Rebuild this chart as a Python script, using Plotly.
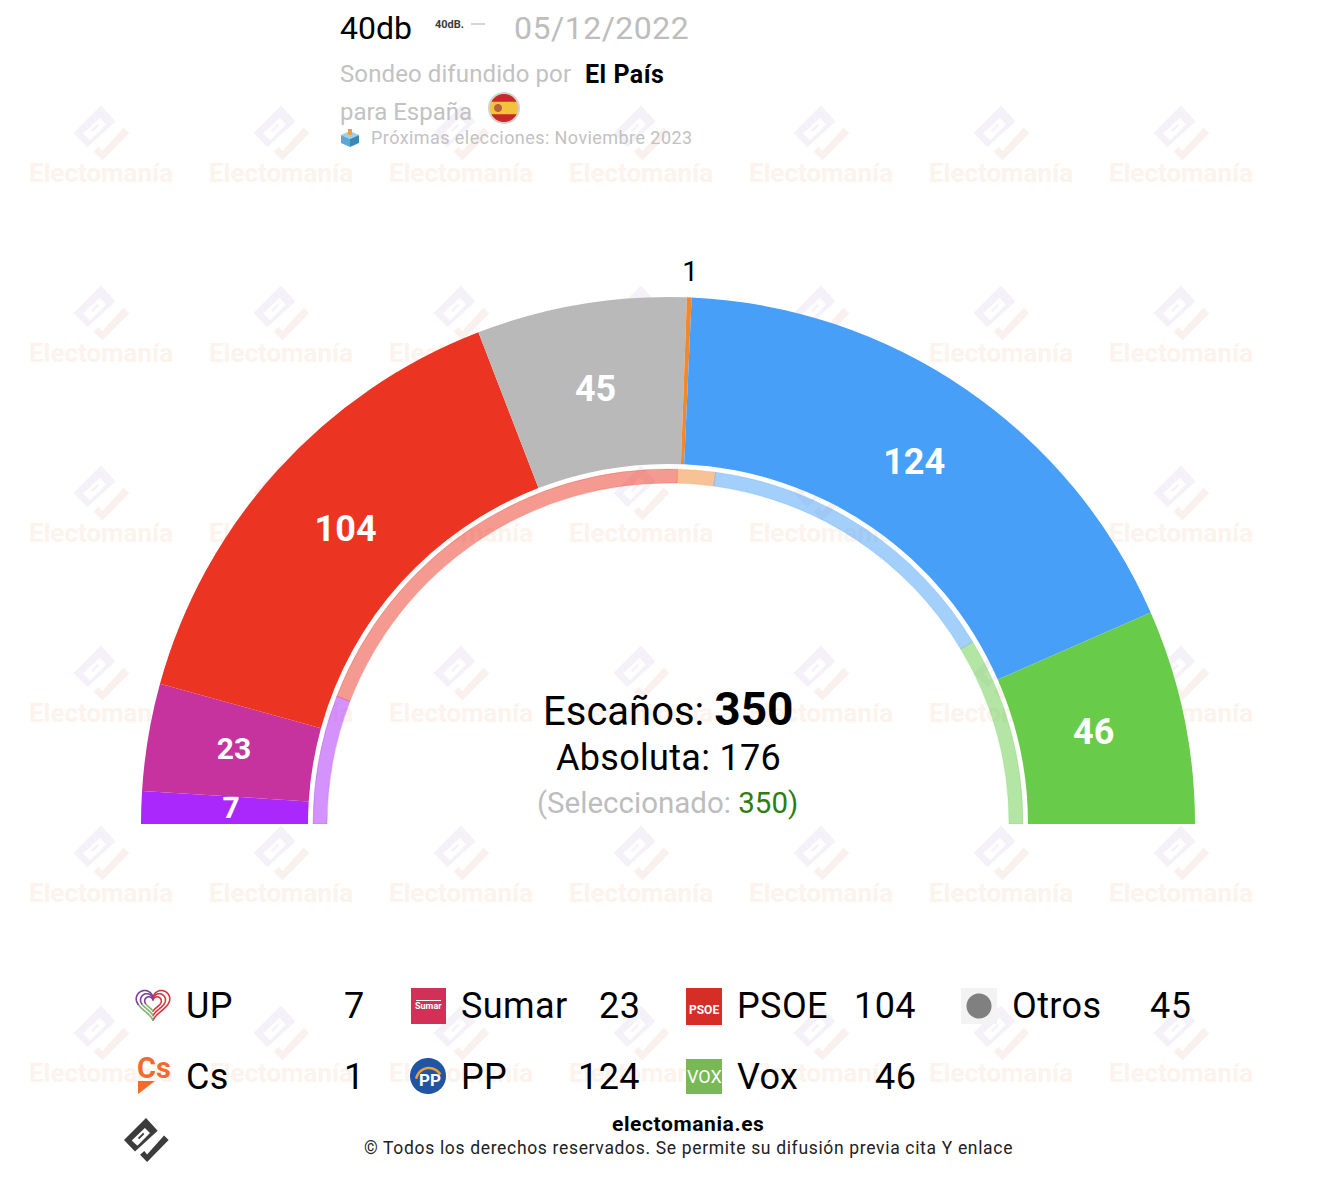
import numpy as np
import plotly.graph_objects as go

W, H = 1326, 1178

parties = ["UP", "Sumar", "PSOE", "Otros", "Cs", "PP", "Vox"]
seats = [7, 23, 104, 45, 1, 124, 46]
colors = ["#aa28fb", "#c6339f", "#eb3522", "#b9b9b9", "#f0882d", "#479ff8", "#68cb4a"]
label_sizes = [30, 30, 36, 36, 28, 36, 36]
label_colors = ["white", "white", "white", "white", "black", "white", "white"]
label_r = [437, 440, 435, 438, 550, 435, 435]

# thin ring under the main arc
prev_seats = [41, 137, 12, 100, 60]
prev_colors = [
    "rgba(170,40,250,0.5)",
    "rgba(235,53,34,0.5)",
    "rgba(240,136,45,0.5)",
    "rgba(71,159,248,0.5)",
    "rgba(104,203,74,0.5)",
]

total_seats = 350
majority = 176
selected = 350

# legend rows, left to right
legend_rows = [parties[:4], parties[4:]]
legend_name_x = [184, 459, 735, 1010]
legend_value_x = [367, 642, 918, 1193]
legend_y = [1006, 1077]

CX, CY = 668, 824
R_OUT, R_IN = 527, 360
RING_OUT, RING_IN = 355, 341
R_MAX = 560  # radial range, leaves room for the small label above the arc

FONT = "Roboto"
GREY = "#c2c2c2"


def arc_mids(vals):
    ends = np.cumsum(vals) * 180 / total_seats
    widths = np.array(vals) * 180 / total_seats
    return ends - widths / 2, widths


def poly(pts):
    return "M" + " L".join(f"{x:.2f},{y:.2f}" for x, y in pts) + " Z"


def line(pts):
    return "M" + " L".join(f"{x:.2f},{y:.2f}" for x, y in pts)


def circle_pts(cx, cy, r, a0=0, a1=360, n=60):
    t = np.radians(np.linspace(a0, a1, n))
    return [(cx + r * np.cos(a), cy - r * np.sin(a)) for a in t]


# the Electomanía mark, unit coords around its middle
LOGO_BODY = [(0, -1), (0.53, -0.42), (-0.5, 0.52), (-1, 0)]
LOGO_HOLE = [(-0.05, -0.55), (0.18, -0.32), (-0.39, 0.26), (-0.65, 0.02)]
LOGO_STRIP = [(-0.13, -0.33), (-0.07, -0.27), (-0.31, -0.03), (-0.37, -0.09)]
LOGO_TAIL = [(0.82, -0.2), (1.03, 0), (0.05, 1.0), (-0.27, 0.67), (-0.08, 0.5), (0.05, 0.66)]


def logo_part(parts, cx, cy, s):
    return " ".join(poly([(cx + s * x, cy + s * y) for x, y in p]) for p in parts)


def rect(x0, y0, x1, y1, color, layer="above"):
    return dict(type="rect", xref="x", yref="y", x0=x0, y0=y0, x1=x1, y1=y1,
                fillcolor=color, line_width=0, layer=layer)


def path(d, fill=None, stroke=None, width=0, layer="above"):
    return dict(type="path", xref="x", yref="y", path=d, layer=layer, fillrule="evenodd",
                fillcolor=fill or "rgba(0,0,0,0)",
                line=dict(color=stroke or "rgba(0,0,0,0)", width=width))


def note(x, y, text, size, color="black", anchor="left", ls=0, **kw):
    if ls:
        text = f"<span style='letter-spacing:{ls}px'>{text}</span>"
    return dict(x=x, y=y, xref="x", yref="y", text=text, showarrow=False, xanchor=anchor,
                yanchor="middle", font=dict(family=FONT, size=size, color=color), **kw)


shapes = []
annotations = []

# watermark grid
wm_cols = [101 + 180 * i for i in range(8)]
wm_rows = [133 + 180 * i for i in range(-1, 6)]
body_d = " ".join(logo_part([LOGO_BODY, LOGO_HOLE, LOGO_STRIP], x, y, 27.5) for x in wm_cols for y in wm_rows)
tail_d = " ".join(logo_part([LOGO_TAIL], x, y, 27.5) for x in wm_cols for y in wm_rows)
shapes.append(path(body_d, fill="#f5f1f8", layer="below"))
shapes.append(path(tail_d, fill="#faf1ee", layer="below"))
wm_x = [x for x in wm_cols for y in wm_rows]
wm_y = [y + 42 for x in wm_cols for y in wm_rows]

# header
annotations += [
    note(338, 28, "40db", 32),
    note(433, 24.5, "<b>40dB.</b>", 11, "#3a3a3a"),
    note(512, 28, "05/12/2022", 32, "#bdbdbd", ls=0.5),
    note(338, 74, "Sondeo difundido por", 24, GREY, ls=0.1),
    note(583, 74, "<b>El País</b>", 25, ls=0.5),
    note(338, 112, "para España", 24, GREY),
    note(369, 137, "Próximas elecciones: Noviembre 2023", 18, GREY, ls=0.43),
]
shapes.append(rect(471, 23, 485, 25, "#d4d4d4"))

# flag
shapes.append(path(poly(circle_pts(504, 108, 16)), fill="#d2d2d2"))
shapes.append(path(poly(circle_pts(504, 108, 14)), fill="#f4c33c"))
shapes.append(path(poly(circle_pts(504, 108, 14, 27, 153)), fill="#c8282b"))
shapes.append(path(poly(circle_pts(504, 108, 14, 207, 333)), fill="#c8282b"))
shapes.append(path(poly(circle_pts(498, 108, 4)), fill="#b5653a"))

# ballot box
shapes.append(path(poly([(350, 131), (359, 135), (350, 139), (341, 135)]), fill="#9bd0ea"))
shapes.append(path(poly([(341, 135), (350, 139), (350, 147), (341, 143)]), fill="#5aa9d2"))
shapes.append(path(poly([(350, 139), (359, 135), (359, 143), (350, 147)]), fill="#3a88b5"))
shapes.append(rect(348, 129, 352, 135, "#f0a040"))

# centre block
annotations += [
    note(668, 709, "Escaños: <b><span style='font-size:46px'>%d</span></b>" % total_seats, 40, anchor="center"),
    note(668, 758, "Absoluta: %d" % majority, 36, anchor="center", ls=0.3),
    note(667, 803, "(Seleccionado: <span style='color:#2f7d12'>%d)</span>" % selected, 29.5, "#bdbdbd", anchor="center"),
]

# legend text
for row, y in zip(legend_rows, legend_y):
    for i, name in enumerate(row):
        annotations.append(note(legend_name_x[i], y, name, 36, ls=0.4))
        annotations.append(note(legend_value_x[i], y, str(seats[parties.index(name)]), 36, anchor="right", ls=0.4))

# UP heart
t = np.linspace(0, 2 * np.pi, 121)
hx = 16 * np.sin(t) ** 3
hy = -(13 * np.cos(t) - 5 * np.cos(2 * t) - 2 * np.cos(3 * t) - np.cos(4 * t))
for s in [1.05, 0.78, 0.52]:
    pts = [(153 + s * a, 1003 + s * b) for a, b in zip(hx, hy)]
    shapes.append(path(line(pts[:61]), stroke="#d8343f", width=1.6))
    shapes.append(path(line(pts[60:85]), stroke="#7fb56c", width=1.6))
    shapes.append(path(line(pts[84:]), stroke="#7c3f98", width=1.6))

# Sumar
shapes.append(rect(411, 988, 446, 1024, "#d23057"))
shapes.append(rect(416, 1000, 441, 1001, "white"))
annotations.append(note(428.5, 1006, "<b>Sumar</b>", 9, "white", anchor="center"))

# PSOE
shapes.append(rect(686, 988, 722, 1025, "#d42e27"))
annotations.append(note(704, 1010, "<b>PSOE</b>", 12, "white", anchor="center"))

# Otros
shapes.append(rect(961, 988, 997, 1024, "#f3f3f3"))
shapes.append(path(poly(circle_pts(979, 1006, 12.5)), fill="#808080"))

# Cs
annotations.append(note(154, 1068, "<b>Cs</b>", 29, "#f26a2e", anchor="center"))
shapes.append(path(poly([(138, 1081), (155, 1081), (138, 1094)]), fill="#f26a2e"))

# PP
shapes.append(path(poly(circle_pts(428, 1076, 18)), fill="#1f55a3"))
shapes.append(path(line(circle_pts(429, 1081, 13, 30, 170, 20)), stroke="#f0a030", width=2.5))
annotations.append(note(430, 1080, "<b>PP</b>", 17, "white", anchor="center"))

# Vox
shapes.append(rect(686, 1059, 722, 1094, "#79b955"))
annotations.append(note(704, 1076, "VOX", 18, "white", anchor="center"))

# footer
shapes.append(path(logo_part([LOGO_BODY, LOGO_HOLE, LOGO_STRIP], 146, 1140, 22), fill="#3c3c3c"))
shapes.append(path(logo_part([LOGO_TAIL], 146, 1140, 22), fill="#3c3c3c"))
annotations += [
    note(688, 1124, "<b>electomania.es</b>", 21, anchor="center", ls=0.6),
    note(688, 1148, "© Todos los derechos reservados. Se permite su difusión previa cita Y enlace", 17.5, "#222222", anchor="center", ls=0.67),
]

mids, widths = arc_mids(seats)
prev_mids, prev_widths = arc_mids(prev_seats)

fig = go.Figure()
# watermark words sit on a pixel-sized cartesian layer, under the polar arcs
fig.add_trace(go.Scatter(
    x=wm_x, y=wm_y, mode="text", text=["<b>Electomanía</b>"] * len(wm_x),
    textfont=dict(family=FONT, size=26, color="#fdf3ed"),
    hoverinfo="skip", showlegend=False, cliponaxis=False,
))
fig.add_trace(go.Barpolar(
    theta=mids, r=[R_OUT - R_IN] * len(seats), base=R_IN, width=widths,
    marker=dict(color=colors, line_width=0),
    text=parties, hoverinfo="text", showlegend=False,
))
fig.add_trace(go.Barpolar(
    theta=prev_mids, r=[RING_OUT - RING_IN] * len(prev_seats), base=RING_IN, width=prev_widths,
    marker=dict(color=prev_colors, line=dict(color=prev_colors, width=0.5)),
    hoverinfo="skip", showlegend=False,
))
fig.add_trace(go.Scatterpolar(
    theta=mids, r=label_r, mode="text",
    text=["<b>%d</b>" % s if c == "white" else str(s) for s, c in zip(seats, label_colors)],
    textfont=dict(family=FONT, size=label_sizes, color=label_colors),
    hoverinfo="skip", showlegend=False, cliponaxis=False,
))

fig.update_layout(
    width=W, height=H, autosize=False,
    margin=dict(l=0, r=0, t=0, b=0),
    paper_bgcolor="white", plot_bgcolor="white",
    showlegend=False,
    xaxis=dict(range=[0, W], visible=False, domain=[0, 1], fixedrange=True),
    yaxis=dict(range=[H, 0], visible=False, domain=[0, 1], fixedrange=True),
    polar=dict(
        domain=dict(
            x=[(CX - R_MAX) / W, (CX + R_MAX) / W],
            y=[1 - CY / H, 1 - (CY - R_MAX) / H],
        ),
        sector=[0, 180],
        hole=0,
        bgcolor="rgba(0,0,0,0)",
        barmode="overlay",
        radialaxis=dict(range=[0, R_MAX], visible=False, showgrid=False),
        angularaxis=dict(rotation=180, direction="clockwise", visible=False, showgrid=False),
    ),
    shapes=shapes,
    annotations=annotations,
)

fig.write_html("out.html", config=dict(displayModeBar=False), post_script="document.body.style.margin='0';")
